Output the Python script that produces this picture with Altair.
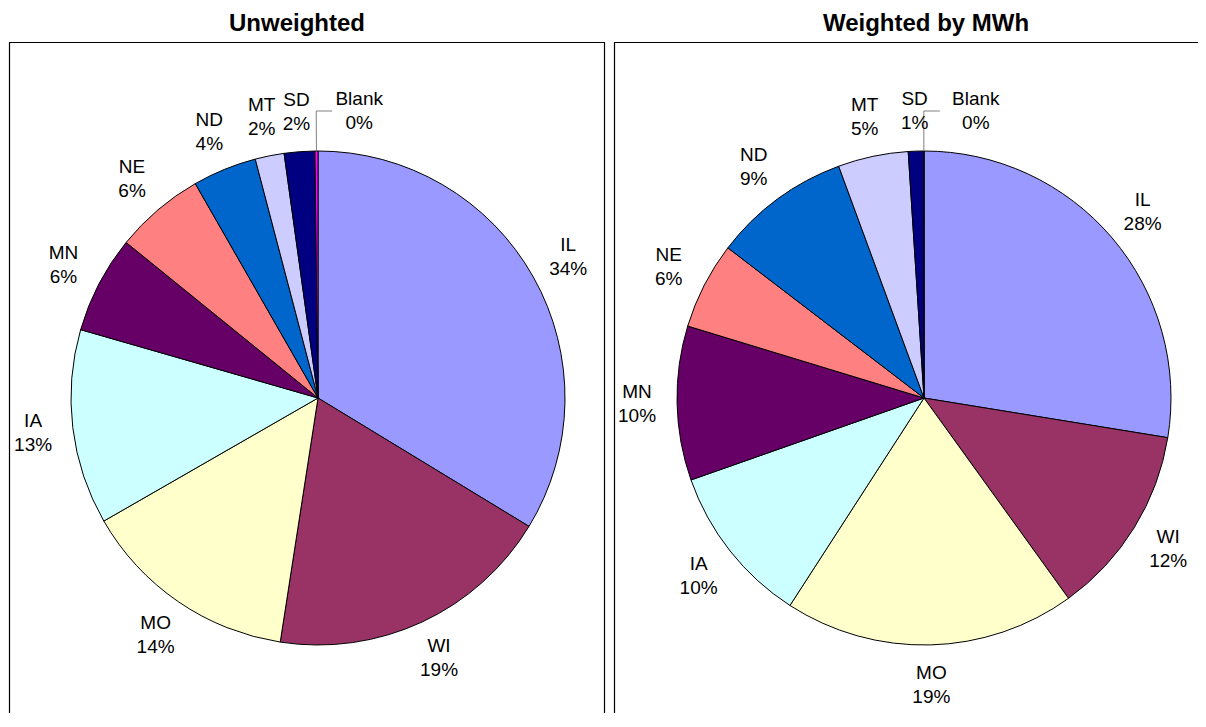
import altair as alt
import pandas as pd
import numpy as np

states = ["IL", "WI", "MO", "IA", "MN", "NE", "ND", "MT", "SD", "Blank"]
colors = ["#9999FF", "#993366", "#FFFFCC", "#CCFFFF", "#660066",
          "#FF8080", "#0066CC", "#CCCCFF", "#000080", "#FF00FF"]

unweighted_share = [33.8, 18.8, 14.3, 12.8, 6.4, 5.9, 4.2, 1.9, 2.0, 0.2]
unweighted_label = ["34%", "19%", "14%", "13%", "6%", "6%", "4%", "2%", "2%", "0%"]

weighted_share = [27.6, 12.5, 19.1, 10.5, 10.1, 5.7, 9.0, 4.6, 1.0, 0.02]
weighted_label = ["28%", "12%", "19%", "10%", "10%", "6%", "9%", "5%", "1%", "0%"]

titles = ["Unweighted", "Weighted by MWh"]

FONT = "Liberation Sans"
W, H = 1190, 705
R_PIE = 247
R_LABEL = 287
LINE_H = 24
BOX_TOP = 34.5


def pie_layers(shares, labels, cx, cy, blank_dx):
    df = pd.DataFrame({
        "state": states,
        "share": shares,
        "pct": labels,
        "order": list(range(len(states))),
    })
    df["label_main"] = [f"{s}\n{p}" if s != "Blank" else "" for s, p in zip(states, labels)]
    df["label_blank"] = [f"{s}\n{p}" if s == "Blank" else "" for s, p in zip(states, labels)]

    base = alt.Chart(df).encode(
        theta=alt.Theta("share:Q", stack=True),
        order=alt.Order("order:Q"),
        x=alt.value(cx),
        y=alt.value(cy),
    )
    pie = base.mark_arc(outerRadius=R_PIE, stroke="black", strokeWidth=1).encode(
        color=alt.Color("state:N", scale=alt.Scale(domain=states, range=colors), legend=None)
    )
    txt = base.mark_text(radius=R_LABEL, lineBreak="\n", fontSize=19, font=FONT,
                         align="center", baseline="middle", lineHeight=LINE_H,
                         dy=-LINE_H / 2, color="black").encode(text="label_main:N")
    txt_blank = base.mark_text(radius=R_LABEL, lineBreak="\n", fontSize=19, font=FONT,
                               align="center", baseline="middle", lineHeight=LINE_H,
                               dx=blank_dx, dy=-LINE_H / 2, color="black").encode(
        text="label_blank:N")

    # leader line for the Blank slice, derived from its angle
    total = float(np.sum(shares))
    before = float(np.sum(shares[:-1]))
    a = 2 * np.pi * (before + shares[-1] / 2) / total
    x0, y0 = cx + R_PIE * np.sin(a), cy - R_PIE * np.cos(a)
    x1, y1 = cx + R_LABEL * np.sin(a), cy - R_LABEL * np.cos(a)
    lead = pd.DataFrame({"px": [x0, x1, x1 + 16], "py": [y0, y1, y1], "k": [0, 1, 2]})
    leader = alt.Chart(lead).mark_line(color="#808080", strokeWidth=1).encode(
        x=alt.X("px:Q", scale=None, axis=None),
        y=alt.Y("py:Q", scale=None, axis=None),
        order="k:Q",
    )
    return [pie, leader, txt, txt_blank]


one = pd.DataFrame({"d": [0]})


def rule(**enc):
    return alt.Chart(one).mark_rule(color="black", strokeWidth=1.2).encode(**enc)


frame = [
    # left panel: left, top, right edges
    rule(x=alt.value(0.5), y=alt.value(BOX_TOP), y2=alt.value(H)),
    rule(x=alt.value(0), x2=alt.value(596), y=alt.value(BOX_TOP)),
    rule(x=alt.value(595.5), y=alt.value(BOX_TOP), y2=alt.value(H)),
    # right panel: left, top edges (right edge is off-page)
    rule(x=alt.value(605.5), y=alt.value(BOX_TOP), y2=alt.value(H)),
    rule(x=alt.value(605), x2=alt.value(W), y=alt.value(BOX_TOP)),
]


def title_text(t, x):
    return alt.Chart(pd.DataFrame({"t": [t]})).mark_text(
        font=FONT, fontSize=24, fontWeight="bold", align="center",
        baseline="alphabetic", color="black"
    ).encode(text="t:N", x=alt.value(x), y=alt.value(23))


layers = (
    pie_layers(unweighted_share, unweighted_label, 309, 390, 43)
    + pie_layers(weighted_share, weighted_label, 915, 390, 52)
    + frame
    + [title_text(titles[0], 288), title_text(titles[1], 917)]
)

chart = alt.layer(*layers).resolve_scale(theta="independent").properties(
    width=W, height=H, padding=0,
    autosize=alt.AutoSizeParams(type="fit", contains="padding"),
).configure_view(stroke=None)

chart.save("out.html", embed_options={"renderer": "svg", "actions": False})
